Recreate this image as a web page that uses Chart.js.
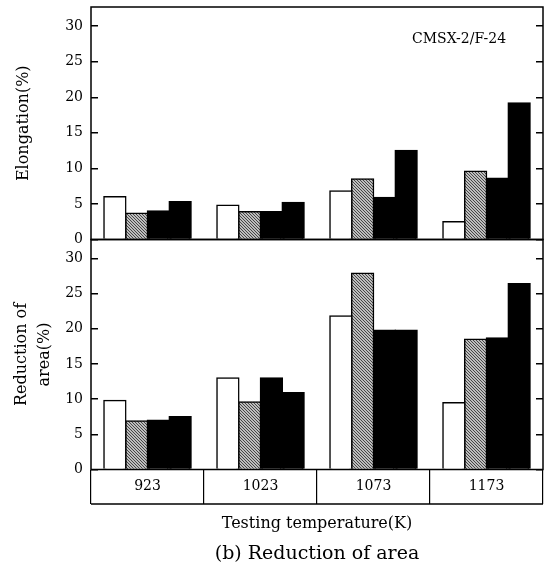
<!DOCTYPE html>
<html><head><meta charset="utf-8">
<script src="https://cdn.jsdelivr.net/npm/chart.js@4"></script>
<style>
html,body{margin:0;padding:0;background:#fff;width:546px;height:570px;overflow:hidden;position:relative;font-family:"DejaVu Serif",serif;}
canvas{position:absolute;left:0;}
#c1{top:0}
#c2{top:230px}
.txt{position:absolute;white-space:nowrap;color:#000;line-height:1;font-family:"DejaVu Serif",serif;}
</style></head><body>
<canvas id="c1" width="546" height="250"></canvas>
<canvas id="c2" width="546" height="280"></canvas>
<div class="txt" style="left:412px;top:31px;font-size:14px;">CMSX-2/F-24</div>
<div class="txt" style="left:0;width:634px;text-align:center;top:515px;font-size:16px;">Testing temperature(K)</div>
<div class="txt" style="left:0;width:634px;text-align:center;top:543px;font-size:19px;">(b) Reduction of area</div>
<script>
// ---- data ----
const categories = ['923', '1023', '1073', '1173'];
const yTicks = [0, 5, 10, 15, 20, 25, 30];
const elongWhite  = [6.0, 4.8, 6.8, 2.5];
const elongHatch  = [3.7, 3.9, 8.5, 9.6];
const elongBlack1 = [4.0, 3.9, 5.9, 8.6];
const elongBlack2 = [5.3, 5.2, 12.5, 19.2];
const raWhite  = [9.8, 13.0, 21.8, 9.5];
const raHatch  = [6.9, 9.6, 27.9, 18.5];
const raBlack1 = [7.0, 13.0, 19.8, 18.7];
const raBlack2 = [7.5, 10.9, 19.8, 26.4];

// ---- styles ----
const FONT = '"DejaVu Serif", serif';
function hatchPattern(){
  const p = document.createElement('canvas'); p.width = 6; p.height = 6;
  const g = p.getContext('2d');
  g.fillStyle = '#bdbdbd'; g.fillRect(0,0,6,6);
  g.strokeStyle = '#464646'; g.lineWidth = 1.0;
  for (let k = -6; k <= 6; k += 3){ g.beginPath(); g.moveTo(k,0); g.lineTo(k+6,6); g.stroke(); }
  return g.createPattern(p, 'repeat');
}
const HATCH = hatchPattern();

function ds(label, data, fill){
  return {label, data, backgroundColor: fill, borderColor:'#000', borderWidth:1.5,
          inflateAmount:0.8, categoryPercentage:0.77, barPercentage:1.0};
}
const frame = {
  id:'frame',
  afterDatasetsDraw(chart, args, opts){
    const {ctx, chartArea:a} = chart;
    ctx.save(); ctx.strokeStyle='#000'; ctx.lineWidth=1.5;
    ctx.strokeRect(a.left, a.top, a.right-a.left, a.bottom-a.top);
    if (opts && opts.table){
      ctx.beginPath(); ctx.moveTo(a.left, a.bottom+opts.table); ctx.lineTo(a.right, a.bottom+opts.table); ctx.stroke();
    }
    ctx.restore();
  }
};
function setTicks(s){ s.ticks = yTicks.map(v => ({value:v})); }
function leftAxis(title, titlePad){
  return {
    position:'left', min:0, max:32.7,
    afterBuildTicks:setTicks,
    afterFit(s){ s.width = 91; s.paddingTop = 0; s.paddingBottom = 0; },
    border:{display:false},
    grid:{drawOnChartArea:false, drawTicks:true, tickLength:-7, color:'#000', lineWidth:1.5},
    ticks:{color:'#000', padding:15, font:{family:FONT, size:14}},
    title:{display:true, text:title, color:'#000', font:{family:FONT, size:16, lineHeight:1.44}, padding:{top:titlePad, bottom:0}}
  };
}
function rightAxis(){
  return {
    position:'right', min:0, max:32.7,
    afterBuildTicks:setTicks,
    afterFit(s){ s.width = 0; s.paddingTop = 0; s.paddingBottom = 0; },
    border:{display:false},
    grid:{drawOnChartArea:false, drawTicks:true, tickLength:-7, color:'#000', lineWidth:1.5},
    ticks:{display:false}
  };
}
const common = {responsive:false, animation:false, devicePixelRatio:1};

new Chart(document.getElementById('c1'), {
  type:'bar',
  data:{labels:categories, datasets:[
    ds('Series 1', elongWhite, '#fff'), ds('Series 2', elongHatch, HATCH),
    ds('Series 3', elongBlack1, '#000'), ds('Series 4', elongBlack2, '#000')]},
  options:Object.assign({}, common, {
    layout:{padding:{left:0, right:3, top:7, bottom:10.5}},
    plugins:{legend:{display:false}, tooltip:{enabled:false}, frame:{}},
    scales:{ x:{display:false}, y:leftAxis('Elongation(%)', 12), y2:rightAxis() }
  }),
  plugins:[frame]
});

new Chart(document.getElementById('c2'), {
  type:'bar',
  data:{labels:categories, datasets:[
    ds('Series 1', raWhite, '#fff'), ds('Series 2', raHatch, HATCH),
    ds('Series 3', raBlack1, '#000'), ds('Series 4', raBlack2, '#000')]},
  options:Object.assign({}, common, {
    layout:{padding:{left:0, right:3, top:9.5, bottom:6}},
    plugins:{legend:{display:false}, tooltip:{enabled:false}, frame:{table:34.5}},
    scales:{
      x:{
        position:'bottom', offset:true,
        afterFit(s){ s.height = 34.5; s.paddingLeft = 0; s.paddingRight = 0; },
        border:{display:false},
        grid:{offset:true, drawOnChartArea:false, drawTicks:true, tickLength:34.5, color:'#000', lineWidth:1.2},
        ticks:{color:'#000', padding:-26, maxRotation:0, font:{family:FONT, size:14}}
      },
      y:leftAxis(['Reduction of', 'area(%)'], 10.5),
      y2:rightAxis()
    }
  }),
  plugins:[frame]
});
</script>
</body></html>
